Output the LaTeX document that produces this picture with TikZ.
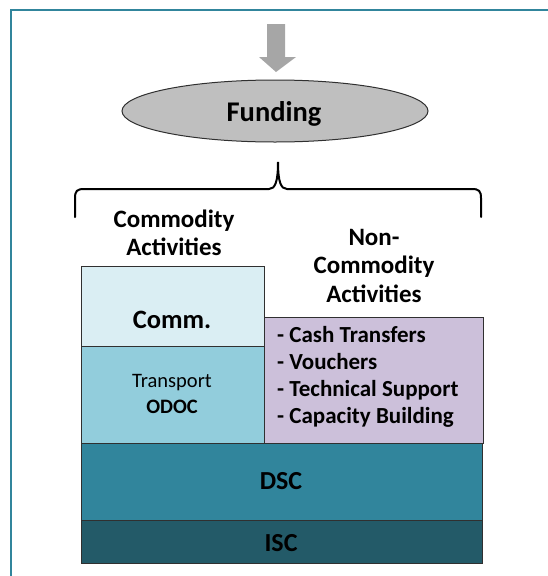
\documentclass[tikz,border=0pt]{standalone}
\usepackage{fontspec}
\setmainfont{Carlito}
\definecolor{frameteal}{HTML}{31859C}
\definecolor{commfill}{HTML}{DAEEF3}
\definecolor{transfill}{HTML}{92CDDC}
\definecolor{noncomfill}{HTML}{CCC0DA}
\definecolor{dscfill}{HTML}{31859C}
\definecolor{iscfill}{HTML}{235A68}
\definecolor{arrowgrey}{HTML}{A6A6A6}
\definecolor{ellgrey}{HTML}{BFBFBF}
\definecolor{edgegrey}{HTML}{303030}
\tikzset{
  blockbox/.style={draw=edgegrey, line width=1pt, anchor=north west, inner sep=0pt, outer sep=0pt},
  lbl/.style={inner sep=0pt, anchor=base, align=center, text=black},
}
\begin{document}
\begin{tikzpicture}[x=1pt,y=-1pt]
\useasboundingbox (0,0) rectangle (547,576);
% frame (only top and left sides visible)
\draw[frameteal, line width=2pt] (11,590) -- (11,10) -- (560,10);
% arrow
\fill[arrowgrey] (267,24) -- (285,24) -- (285,57) -- (296,57) -- (276,72) -- (259,57) -- (267,57) -- cycle;
\coordinate (arrtip) at (276,72);
% ellipse
\draw[fill=ellgrey, draw=edgegrey, line width=1pt] (275,111) ellipse [x radius=153, y radius=31];
\node (fund) at (275,111) {};
\node[lbl, font=\fontsize{28.5}{32}\selectfont\bfseries] (fundlbl) at (274,121) {Funding};
% brace
\draw[black, line width=2pt, line cap=round]
  (75,217) -- (75,198) .. controls (75,191) and (77,189) .. (84,189)
  -- (269,189) .. controls (275,189) and (278,182) .. (278,162)
  .. controls (278,182) and (281,189) .. (287,189)
  -- (472,189) .. controls (479,189) and (481,191) .. (481,198) -- (481,217);
% headings
\node[lbl, font=\fontsize{25}{28}\selectfont\bfseries] (comact) at (174,255) {Commodity\\Activities};
\node[lbl, font=\fontsize{25}{28.5}\selectfont\bfseries] (noncomact) at (374,302) {Non-\\Commodity\\Activities};
% boxes
\node[blockbox, fill=commfill, minimum width=183pt, minimum height=80pt] (comm) at (81,266) {};
\node[blockbox, fill=transfill, minimum width=183pt, minimum height=97pt] (transp) at (81,346) {};
\node[blockbox, fill=noncomfill, minimum width=219pt, minimum height=126pt] (noncom) at (264,317) {};
\node[blockbox, fill=dscfill, minimum width=401pt, minimum height=77pt] (dsc) at (81,443) {};
\node[blockbox, fill=iscfill, minimum width=401pt, minimum height=43pt] (isc) at (81,520) {};
% labels
\node[lbl, font=\fontsize{26.5}{30}\selectfont\bfseries] (commlbl) at (172,328) {Comm.};
\node[lbl, font=\fontsize{20.5}{26}\selectfont] (translbl) at (172,413) {Transport\\\bfseries ODOC};
\node[lbl, anchor=base west, align=left, font=\fontsize{23}{27}\selectfont\bfseries] (noncomlbl) at (277,423)
  {- Cash Transfers\\- Vouchers\\- Technical Support\\- Capacity Building};
\node[lbl, font=\fontsize{26}{30}\selectfont\bfseries] (dsclbl) at (281,489) {DSC};
\node[lbl, font=\fontsize{26}{30}\selectfont\bfseries] (isclbl) at (281,551) {ISC};
\end{tikzpicture}
\end{document}
